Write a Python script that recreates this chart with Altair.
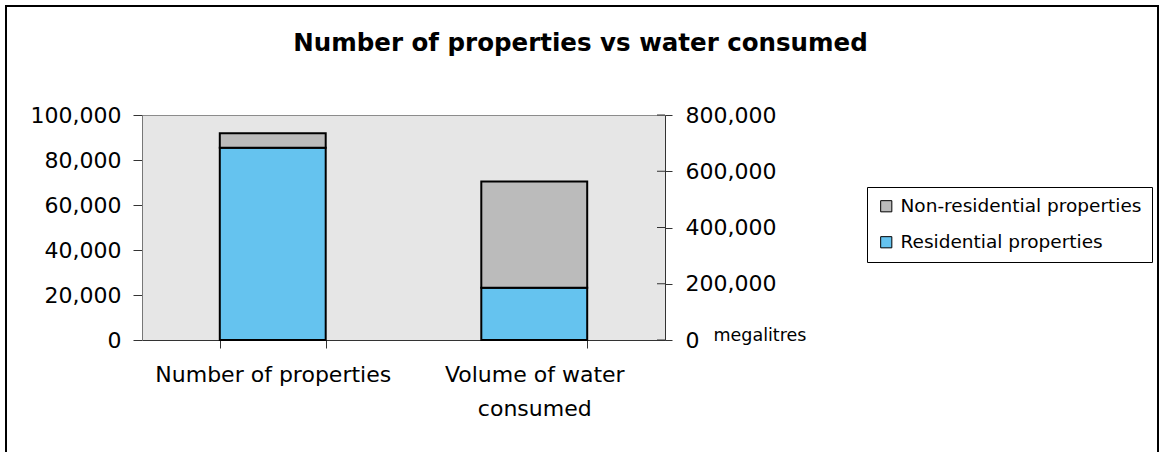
import altair as alt
import pandas as pd

# Categories on the x axis and the two stacked series
categories = ["Number of properties", "Volume of water consumed"]
series = ["Non-residential properties", "Residential properties"]
series_colors = ["#bbbbbb", "#65c3ef"]

# Values per category (properties count; megalitres of water)
residential = [85500, 186000]
non_residential = [6400, 378000]

left_ticks = [0, 20000, 40000, 60000, 80000, 100000]
right_ticks = [0, 200000, 400000, 600000, 800000]

rows = []
for i, cat in enumerate(categories):
    rows.append({"category": cat, "series": series[1], "value": residential[i], "stack_order": 0})
    rows.append({"category": cat, "series": series[0], "value": non_residential[i], "stack_order": 1})
df = pd.DataFrame(rows)
ticks_df = pd.DataFrame({"tick": right_ticks})

FONT = "DejaVu Sans"
W, H = 523, 225

x_enc = alt.X(
    "category:N",
    sort=categories,
    scale=alt.Scale(domain=categories, paddingInner=0.595, paddingOuter=0.2975),
    axis=alt.Axis(
        title=None,
        labelAngle=0,
        tickBand="extent",
        tickSize=8,
        tickColor="#333333",
        domainColor="#333333",
        labelFontSize=22,
        labelPadding=16,
        labelLimit=400,
        labelLineHeight=34,
        labelColor="#000000",
        labelExpr="datum.value == 'Volume of water consumed' ? ['Volume of water', 'consumed'] : datum.label",
    ),
)

color_enc = alt.Color(
    "series:N",
    scale=alt.Scale(domain=series, range=series_colors),
    legend=alt.Legend(
        title=None,
        orient="none",
        legendX=725,
        legendY=72,
        strokeColor="#000000",
        fillColor="#ffffff",
        padding=10,
        symbolType="square",
        symbolSize=125,
        symbolStrokeColor="#000000",
        symbolStrokeWidth=1,
        labelFontSize=18.5,
        labelLimit=400,
        labelColor="#000000",
        rowPadding=17,
        labelOffset=5,
    ),
)

left_axis = alt.Axis(
    orient="left",
    title=None,
    values=left_ticks,
    format=",.0f",
    tickSize=9,
    tickColor="#333333",
    domainColor="#777777",
    labelFontSize=22,
    labelPadding=12,
    labelColor="#000000",
)

right_axis = alt.Axis(
    orient="right",
    title="megalitres",
    titleAngle=0,
    titleX=48,
    titleY=220,
    titleAlign="left",
    titleBaseline="middle",
    titleFontSize=17.5,
    titleFontWeight="normal",
    titleFont=FONT,
    titleColor="#000000",
    values=right_ticks,
    format=",.0f",
    tickSize=7,
    tickColor="#333333",
    domainColor="#333333",
    labelFontSize=22,
    labelPadding=13,
    labelColor="#000000",
)

base = alt.Chart(df)

left_bars = base.transform_filter(alt.datum.category == categories[0]).mark_bar(
    stroke="#000000", strokeWidth=2
).encode(
    x=x_enc,
    y=alt.Y("value:Q", stack="zero", scale=alt.Scale(domain=[0, 100000], nice=False), axis=left_axis),
    color=color_enc,
    order=alt.Order("stack_order:Q"),
)

right_bars = base.transform_filter(alt.datum.category == categories[1]).mark_bar(
    stroke="#000000", strokeWidth=2
).encode(
    x=x_enc,
    y=alt.Y("value:Q", stack="zero", scale=alt.Scale(domain=[0, 800000], nice=False), axis=right_axis),
    color=color_enc,
    order=alt.Order("stack_order:Q"),
)

# Inner half of the right-hand ticks, so they cross the axis line
inner_ticks = alt.Chart(ticks_df).mark_rule(color="#333333").encode(
    y=alt.Y("tick:Q", scale=alt.Scale(domain=[0, 800000], nice=False), axis=None),
    x=alt.value(W - 8),
    x2=alt.value(W),
)

# Frame around the whole figure
frame = alt.Chart(alt.Data(values=[{"frame": 1}])).mark_rect(
    fill=None, stroke="#000000", strokeWidth=2
).encode(
    x=alt.value(6 - 142),
    x2=alt.value(1158 - 142),
    y=alt.value(6 - 115),
    y2=alt.value(470 - 115),
)

chart = (
    alt.layer(left_bars, right_bars, inner_ticks, frame)
    .resolve_scale(y="independent")
    .properties(
        width=W,
        height=H,
        autosize=alt.AutoSizeParams(type="none"),
        padding={"left": 142, "top": 115, "right": 494, "bottom": 112},
        background="#ffffff",
        title=alt.TitleParams(
            "Number of properties vs water consumed",
            font=FONT,
            fontSize=24.5,
            fontWeight="bold",
            color="#000000",
            anchor="middle",
            dx=177,
            dy=51,
            offset=0,
        ),
    )
    .configure_axis(labelFont=FONT, grid=False)
    .configure_legend(labelFont=FONT)
    .configure_view(fill="#e6e6e6", stroke="#8c8c8c")
)

chart.save("out.html", embed_options={"renderer": "svg", "actions": False})
